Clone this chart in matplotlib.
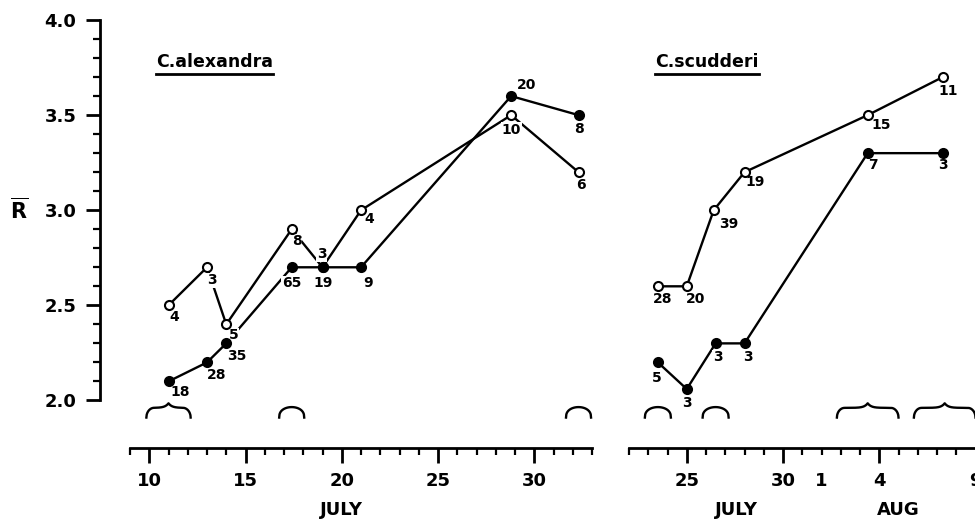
import matplotlib.pyplot as plt
import matplotlib.transforms as mtransforms
from matplotlib.lines import Line2D
import numpy as np

# C. alexandra (days of July)
alex_open_x = [11, 13, 14, 17.4, 19, 21, 28.8, 32.3]
alex_open_y = [2.5, 2.7, 2.4, 2.9, 2.7, 3.0, 3.5, 3.2]
alex_open_n = ['4', '3', '5', '8', '3', '4', '10', '6']
alex_fill_x = [11, 13, 14, 17.4, 19, 21, 28.8, 32.3]
alex_fill_y = [2.1, 2.2, 2.3, 2.7, 2.7, 2.7, 3.6, 3.5]
alex_fill_n = ['18', '28', '35', '65', '19', '9', '20', '8']

# C. scudderi (days counted from 1 July, 32 = 1 Aug)
scud_open_x = [23.5, 25, 26.4, 28, 34.4, 38.3]
scud_open_y = [2.6, 2.6, 3.0, 3.2, 3.5, 3.7]
scud_open_n = ['28', '20', '39', '19', '15', '11']
scud_fill_x = [23.5, 25, 26.5, 28, 34.4, 38.3]
scud_fill_y = [2.2, 2.06, 2.3, 2.3, 3.3, 3.3]
scud_fill_n = ['5', '3', '3', '3', '7', '3']

# sampling periods (braces under the curves)
alex_brace_x = [11, 17.4, 32.3]
alex_brace_w = [2.3, 1.3, 1.3]
scud_brace_x = [23.5, 26.5, 34.4, 38.4]
scud_brace_w = [1.35, 1.35, 3.2, 3.2]

# where the sample sizes sit around each point (pixels)
alex_open_off = [(6, -12), (5, -13), (7, -11), (5, -12), (-1, 13), (8, -9), (0, -15), (2, -13)]
alex_fill_off = [(12, -11), (10, -13), (11, -13), (0, -16), (1, -16), (7, -16), (15, 11), (0, -14)]
scud_open_off = [(5, -13), (9, -13), (15, -14), (11, -10), (13, -10), (5, -14)]
scud_fill_off = [(-1, -16), (0, -14), (2, -14), (3, -14), (5, -12), (0, -12)]

W, H = 975, 525
px_day = 19.25
fig = plt.figure(figsize=(W / 100, H / 100), dpi=100)

ax1 = fig.add_axes([130 / W, 77 / H, 24 * px_day / W, 428 / H])
ax2 = fig.add_axes([629 / W, 77 / H, 18.1 * px_day / W, 428 / H])
ax1.set_xlim(9, 33)
ax2.set_xlim(22, 40.1)
for ax in (ax1, ax2):
    ax.set_ylim(1.75, 4.0)
    ax.patch.set_alpha(0)
    for s in ('top', 'right'):
        ax.spines[s].set_visible(False)
    ax.spines['bottom'].set_linewidth(2)
    ax.tick_params(axis='x', which='major', length=11, width=2, pad=6,
                   labelsize=13)
    ax.tick_params(axis='x', which='minor', length=5, width=1.6, pad=12,
                   labelsize=13)

ax1.spines['left'].set_linewidth(2)
ax1.spines['left'].set_position(('outward', 21.6))
ax1.spines['left'].set_bounds(2.0, 4.0)
ax1.set_yticks([2.0, 2.5, 3.0, 3.5, 4.0], labels=['2.0', '2.5', '3.0', '3.5', '4.0'])
ax1.set_yticks(np.arange(2.0, 4.01, 0.1), minor=True)
ax1.tick_params(axis='y', which='major', length=10, width=2, pad=7, labelsize=13)
ax1.tick_params(axis='y', which='minor', length=5, width=1.6)
ax1.set_xticks([10, 15, 20, 25, 30], labels=['10', '15', '20', '25', '30'])
ax1.set_xticks(range(9, 34), minor=True)

ax2.spines['left'].set_visible(False)
ax2.set_yticks([])
ax2.set_xticks([25, 30, 35, 40], labels=['25', '30', '4', '9'])
minor_days = list(range(22, 41))
ax2.set_xticks(minor_days, labels=['1' if d == 32 else '' for d in minor_days], minor=True)

for ax in (ax1, ax2):
    for lab in ax.get_xticklabels() + ax.get_xticklabels(minor=True) + ax.get_yticklabels():
        lab.set_fontweight('bold')


def plot_series(ax, xs, ys, ns, offs, filled):
    ax.plot(xs, ys, color='black', lw=1.7, zorder=2, clip_on=False)
    ax.plot(xs, ys, 'o', ms=6.5, mec='black', mew=1.5,
            mfc='black' if filled else 'white', zorder=5, clip_on=False)
    for x, y, n, (dx, dy) in zip(xs, ys, ns, offs):
        ax.annotate(n, (x, y), xytext=(dx, dy), textcoords='offset pixels',
                    ha='center', va='center', fontsize=10, fontweight='bold',
                    zorder=4, annotation_clip=False,
                    bbox=dict(boxstyle='square,pad=0.05', fc='white', ec='none'))


def brace(ax, xc, w):
    y0 = 1.91
    if w > 2:
        half = np.linspace(0, w / 2, 120)
        r = 0.4
        u = np.clip(half / r, 0, 1)
        yh = 0.68 * np.sqrt(1 - (1 - u) ** 2) + 0.32 * np.exp(-(half[-1] - half) / 0.18)
        xs = np.concatenate([half, w - half[-2::-1]]) + xc - w / 2
        ys = y0 + 0.075 * np.concatenate([yh, yh[-2::-1]])
    else:
        t = np.linspace(-1, 1, 80)
        xs = xc + t * w / 2
        ys = y0 + 0.055 * (1 - t ** 2) ** 0.4
    ax.plot(xs, ys, color='black', lw=1.7, clip_on=False)


plot_series(ax1, alex_open_x, alex_open_y, alex_open_n, alex_open_off, False)
plot_series(ax1, alex_fill_x, alex_fill_y, alex_fill_n, alex_fill_off, True)
plot_series(ax2, scud_open_x, scud_open_y, scud_open_n, scud_open_off, False)
plot_series(ax2, scud_fill_x, scud_fill_y, scud_fill_n, scud_fill_off, True)
for xc, w in zip(alex_brace_x, alex_brace_w):
    brace(ax1, xc, w)
for xc, w in zip(scud_brace_x, scud_brace_w):
    brace(ax2, xc, w)

# month labels
for ax, x, s in [(ax1, 20, 'JULY'), (ax2, 27.6, 'JULY'), (ax2, 36.0, 'AUG')]:
    tr = mtransforms.blended_transform_factory(ax.transData, ax.transAxes)
    ax.text(x, -0.145, s, transform=tr, ha='center', va='center',
            fontsize=13, fontweight='bold')

fig.text(19 / W, 1 - 210 / H, r'$\mathbf{\overline{R}}$', ha='center', va='center',
         fontsize=15)

# species names, underlined
titles = [ax1.text(13.4, 3.78, 'C.alexandra', ha='center', va='center',
                   fontsize=12.5, fontweight='bold'),
          ax2.text(26.05, 3.78, 'C.scudderi', ha='center', va='center',
                   fontsize=12.5, fontweight='bold')]
fig.canvas.draw()
inv = fig.transFigure.inverted()
for t in titles:
    bb = t.get_window_extent()
    (x0, y0), (x1, _) = inv.transform([(bb.x0, bb.y0 - 3), (bb.x1, bb.y0 - 3)])
    fig.add_artist(Line2D([x0, x1], [y0, y0], color='black', lw=2))

fig.savefig('out.png', dpi=100)
